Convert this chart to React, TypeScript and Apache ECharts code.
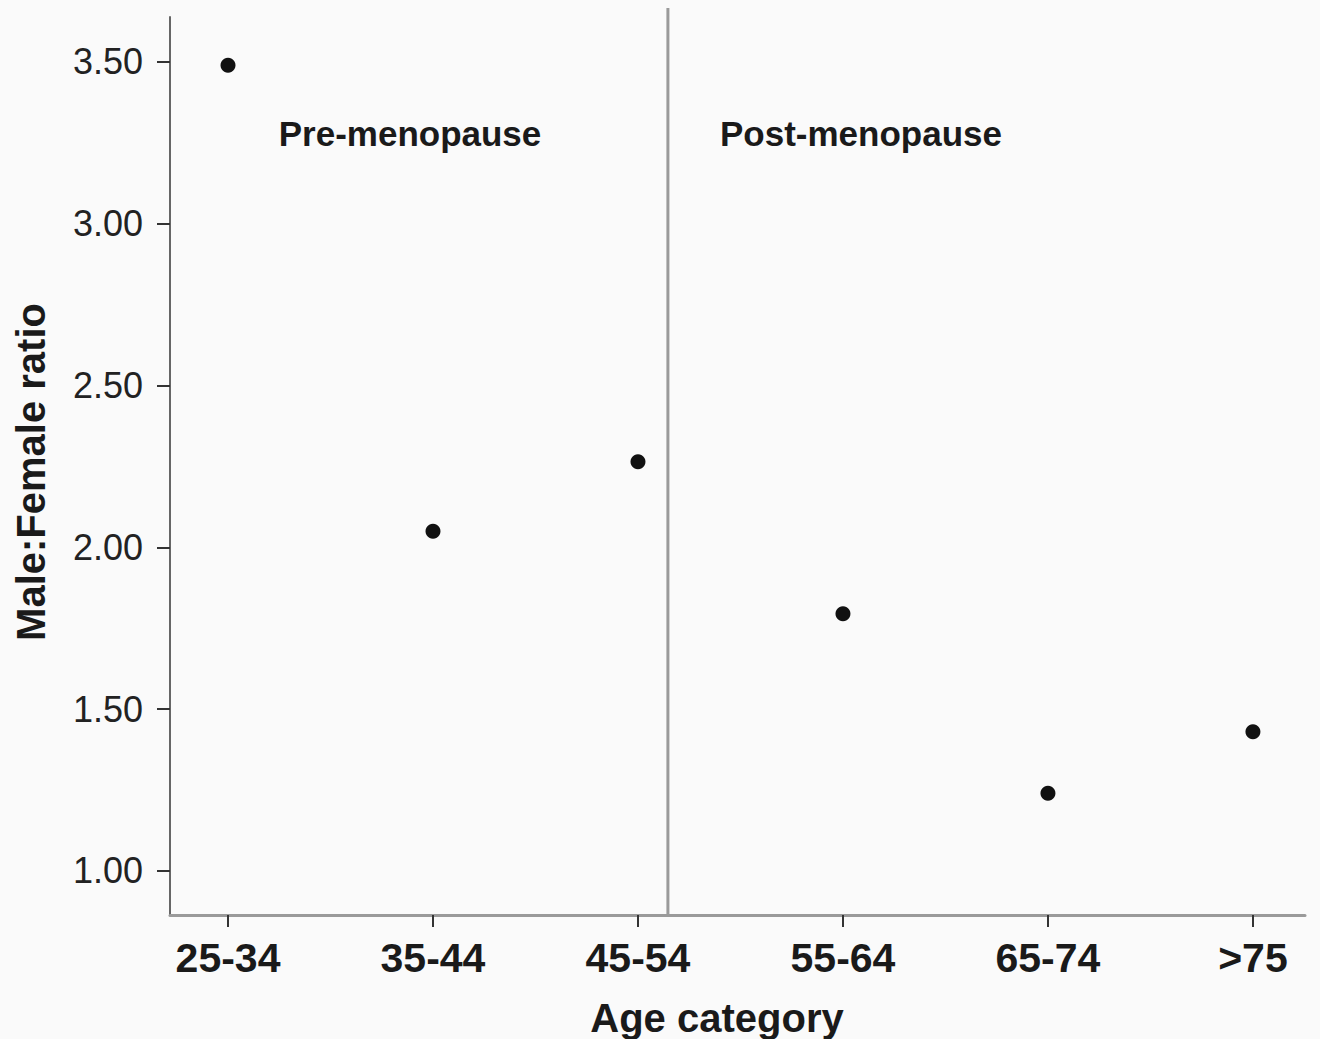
import React, { useEffect, useRef } from "react";
import * as echarts from "echarts";

const categories = ["25-34", "35-44", "45-54", "55-64", "65-74", ">75"];
const ratios = [3.49, 2.05, 2.265, 1.795, 1.24, 1.43];
const yTicks = [1.0, 1.5, 2.0, 2.5, 3.0, 3.5];
const menopauseSplit = 2.146;
const periodLabels = ["Pre-menopause", "Post-menopause"];
const xTitle = "Age category";
const yTitle = "Male:Female ratio";

const FONT = '"Liberation Sans", Arial, Helvetica, sans-serif';

export default function App() {
  const ref = useRef<HTMLDivElement>(null);
  useEffect(() => {
    document.body.style.margin = "0";
    const chart = echarts.init(ref.current!, undefined, { renderer: "svg" });
    const yMin = 0.864;
    const yMax = 3.639;
    chart.setOption({
      animation: false,
      backgroundColor: "#fafafa",
      grid: { left: 170, right: 15, top: 17, bottom: 124 },
      xAxis: {
        type: "value",
        min: -0.283,
        max: 5.254,
        splitLine: { show: false },
        axisLine: { show: true, onZero: false, lineStyle: { color: "#9a9a9a", width: 3 } },
        axisTick: {
          show: true,
          customValues: categories.map((_, i) => i),
          length: 12,
          lineStyle: { color: "#333", width: 2 },
        },
        axisLabel: {
          customValues: categories.map((_, i) => i),
          formatter: (v: number) => categories[Math.round(v)] ?? "",
          fontFamily: FONT,
          fontSize: 41,
          fontWeight: "bold",
          color: "#1a1a1a",
          margin: 22,
        },
      },
      yAxis: {
        type: "value",
        min: yMin,
        max: yMax,
        splitLine: { show: false },
        axisLine: { show: true, onZero: false, lineStyle: { color: "#666", width: 2 } },
        axisTick: {
          show: true,
          customValues: yTicks,
          length: 13,
          lineStyle: { color: "#333", width: 2 },
        },
        axisLabel: {
          customValues: yTicks,
          formatter: (v: number) => v.toFixed(2),
          fontFamily: FONT,
          fontSize: 36,
          color: "#222",
          margin: 27,
        },
      },
      series: [
        {
          type: "line",
          data: [
            [menopauseSplit, yMin],
            [menopauseSplit, 3.667],
          ],
          clip: false,
          symbol: "none",
          lineStyle: { color: "#9a9a9a", width: 3 },
          silent: true,
          z: 1,
        },
        {
          type: "scatter",
          data: ratios.map((v, i) => [i, v]),
          symbol: "circle",
          symbolSize: 15,
          itemStyle: { color: "#111", opacity: 1 },
          z: 3,
        },
      ],
      graphic: [
        {
          type: "text",
          x: 410,
          y: 133,
          style: {
            text: periodLabels[0],
            font: `bold 35px ${FONT}`,
            fill: "#1a1a1a",
            align: "center",
            verticalAlign: "middle",
          },
        },
        {
          type: "text",
          x: 861,
          y: 133,
          style: {
            text: periodLabels[1],
            font: `bold 35px ${FONT}`,
            fill: "#1a1a1a",
            align: "center",
            verticalAlign: "middle",
          },
        },
        {
          type: "text",
          x: 717,
          y: 1018,
          style: {
            text: xTitle,
            font: `bold 40px ${FONT}`,
            fill: "#1a1a1a",
            align: "center",
            verticalAlign: "middle",
          },
        },
        {
          type: "text",
          x: 31,
          y: 472,
          rotation: Math.PI / 2,
          style: {
            text: yTitle,
            font: `bold 40px ${FONT}`,
            fill: "#1a1a1a",
            align: "center",
            verticalAlign: "middle",
          },
        },
      ],
    });
    return () => chart.dispose();
  }, []);
  return (
    <div
      ref={ref}
      style={{ position: "absolute", left: 0, top: 0, width: 1320, height: 1039 }}
    />
  );
}
